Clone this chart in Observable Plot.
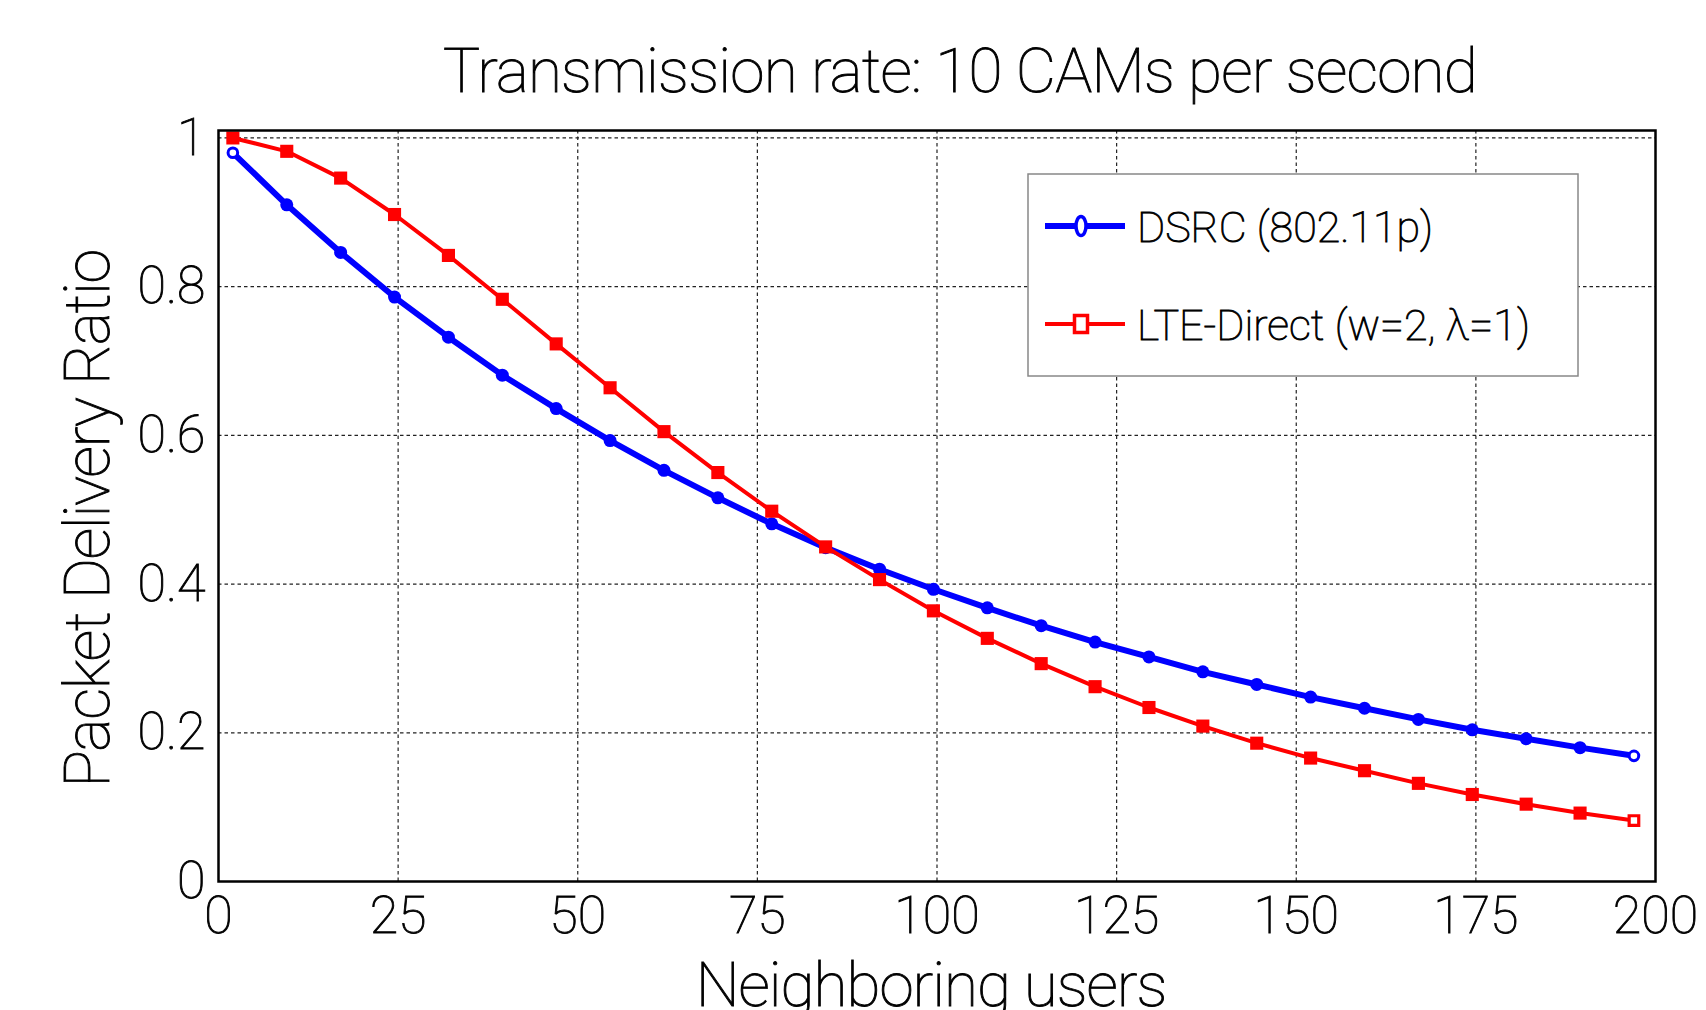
<!DOCTYPE html>
<html><head><meta charset="utf-8">
<script src="https://cdn.jsdelivr.net/npm/d3@7"></script>
<script src="https://cdn.jsdelivr.net/npm/@observablehq/plot@0.6"></script>
<style>
body{margin:0;background:#fff;}
#wrap{position:relative;width:1706px;height:1010px;overflow:hidden;background:#fff;}
#wrap svg text{font-family:Roboto,sans-serif;font-weight:100;fill:#000;stroke:#000;stroke-width:0.9px;}
#legend{position:absolute;left:1027px;top:173px;}
</style>
</head><body>
<div id="wrap"></div>
<script>
const users = [2, 9.5, 17, 24.5, 32, 39.5, 47, 54.5, 62, 69.5, 77, 84.5, 92, 99.5, 107, 114.5, 122, 129.5, 137, 144.5, 152, 159.5, 167, 174.5, 182, 189.5, 197];
const dsrc = [0.980, 0.910, 0.846, 0.786, 0.732, 0.681, 0.636, 0.593, 0.553, 0.516, 0.481, 0.449, 0.420, 0.393, 0.368, 0.344, 0.322, 0.302, 0.282, 0.265, 0.248, 0.233, 0.218, 0.204, 0.192, 0.180, 0.169];
const lte = [1.000, 0.982, 0.946, 0.897, 0.842, 0.783, 0.723, 0.664, 0.605, 0.550, 0.498, 0.450, 0.406, 0.364, 0.327, 0.293, 0.262, 0.234, 0.209, 0.186, 0.166, 0.149, 0.132, 0.117, 0.104, 0.092, 0.082];
const seriesNames = ["DSRC (802.11p)", "LTE-Direct (w=2, \u03bb=1)"];
const seriesColors = ["#0000ff", "#ff0000"];
const xTicks = [0, 25, 50, 75, 100, 125, 150, 175, 200];
const yTicks = [0, 0.2, 0.4, 0.6, 0.8, 1];
const titleText = "Transmission rate: 10 CAMs per second";
const xLabel = "Neighboring users";
const yLabel = "Packet Delivery Ratio";

const dsrcData = users.map((u, i) => ({u, v: dsrc[i], hollow: i === 0 || i === users.length - 1}));
const lteData = users.map((u, i) => ({u, v: lte[i], hollow: i === users.length - 1}));

const chart = Plot.plot({
  width: 1706, height: 1010,
  marginTop: 130, marginBottom: 129, marginLeft: 218, marginRight: 51,
  style: {fontFamily: "Roboto, sans-serif", fontWeight: 100, background: "white", color: "black", overflow: "visible"},
  x: {domain: [0, 200], ticks: xTicks},
  y: {domain: [0, 1.01], ticks: yTicks},
  marks: [
    Plot.gridX(xTicks.slice(1, -1), {stroke: "#222", strokeOpacity: 1, strokeWidth: 1.2, strokeDasharray: "3.5,3"}),
    Plot.gridY(yTicks.slice(1), {stroke: "#222", strokeOpacity: 1, strokeWidth: 1.2, strokeDasharray: "3.5,3"}),
    Plot.line(dsrcData, {x: "u", y: "v", stroke: seriesColors[0], strokeWidth: 6}),
    Plot.dot(dsrcData.filter(d => !d.hollow), {x: "u", y: "v", r: 6.5, fill: seriesColors[0]}),
    Plot.dot(dsrcData.filter(d => d.hollow), {x: "u", y: "v", r: 4.8, fill: "white", stroke: seriesColors[0], strokeWidth: 3}),
    Plot.line(lteData, {x: "u", y: "v", stroke: seriesColors[1], strokeWidth: 4}),
    Plot.dot(lteData.filter(d => !d.hollow), {x: "u", y: "v", symbol: "square", r: 7.4, fill: seriesColors[1]}),
    Plot.dot(lteData.filter(d => d.hollow), {x: "u", y: "v", symbol: "square", r: 5.4, fill: "white", stroke: seriesColors[1], strokeWidth: 3.2}),
    Plot.frame({stroke: "black", strokeWidth: 2.5}),
    Plot.axisX(xTicks, {tickSize: 0, tickPadding: 15, fontSize: 52, label: null}),
    Plot.axisY(yTicks, {tickSize: 0, tickPadding: 13, fontSize: 52, label: null, tickFormat: d => String(d)}),
    Plot.text([titleText], {text: d => d, frameAnchor: "top", lineAnchor: "middle", textAnchor: "middle", dx: 23, dy: -58, fontSize: 62}),
    Plot.text([xLabel], {text: d => d, frameAnchor: "bottom", lineAnchor: "middle", textAnchor: "middle", dx: -6, dy: 105, fontSize: 62}),
    Plot.text([yLabel], {text: d => d, frameAnchor: "left", lineAnchor: "middle", textAnchor: "middle", rotate: -90, dx: -130, dy: 13, fontSize: 63})
  ]
});
document.getElementById("wrap").appendChild(chart);

// tighten the spacing of the three label texts (Helvetica Neue Light is narrower than Roboto)
const spacing = new Map([[titleText, "-0.75px"], [xLabel, "-1px"], [yLabel, "-1.45px"]]);
d3.select(chart).selectAll("text").each(function () {
  const s = spacing.get(this.textContent);
  if (s) d3.select(this).style("letter-spacing", s);
});

// legend
const lg = d3.select("#wrap").append("svg").attr("id", "legend")
  .attr("width", 553).attr("height", 205);
lg.append("rect").attr("x", 1).attr("y", 1).attr("width", 550).attr("height", 202)
  .attr("fill", "white").attr("stroke", "#888").attr("stroke-width", 1.5);
const rowsY = [53, 151];
seriesNames.forEach((name, i) => {
  const y = rowsY[i];
  lg.append("line").attr("x1", 18).attr("x2", 98).attr("y1", y).attr("y2", y)
    .attr("stroke", seriesColors[i]).attr("stroke-width", i === 0 ? 6 : 4);
  if (i === 0) {
    lg.append("ellipse").attr("cx", 54).attr("cy", y).attr("rx", 5).attr("ry", 9.5)
      .attr("fill", "white").attr("stroke", seriesColors[i]).attr("stroke-width", 3.5);
  } else {
    lg.append("rect").attr("x", 54 - 6.5).attr("y", y - 8.5).attr("width", 13).attr("height", 17)
      .attr("fill", "white").attr("stroke", seriesColors[i]).attr("stroke-width", 3.5);
  }
  lg.append("text").attr("x", 110).attr("y", y + 15.5).attr("font-size", 43).text(name);
});
</script>
</body></html>
